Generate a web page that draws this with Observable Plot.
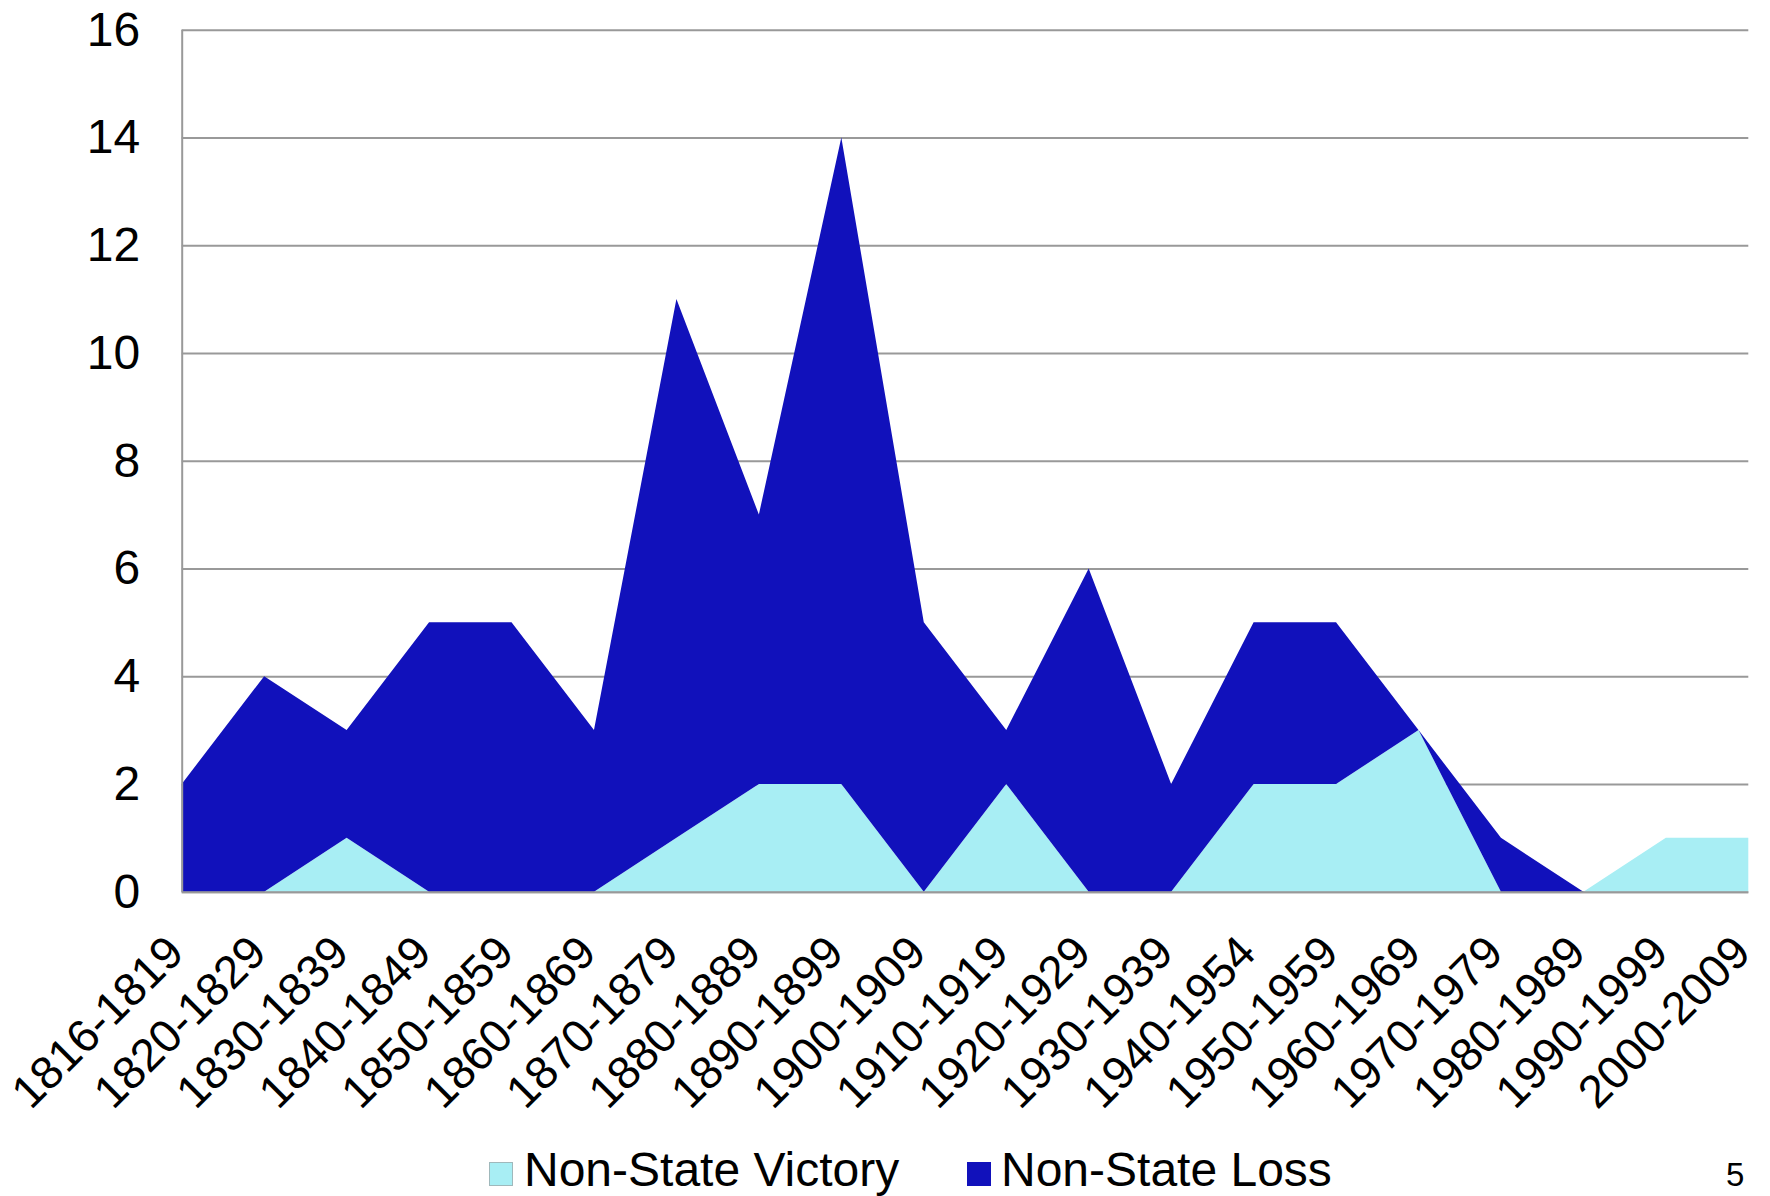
<!DOCTYPE html>
<html>
<head>
<meta charset="utf-8">
<script src="https://cdn.jsdelivr.net/npm/d3@7"></script>
<script src="https://cdn.jsdelivr.net/npm/@observablehq/plot@0.6"></script>
<style>
  html, body { margin: 0; padding: 0; background: white; }
  #wrap { position: relative; width: 1770px; height: 1196px; overflow: hidden; font-family: "Liberation Sans", Arial, sans-serif; }
  .sw { position: absolute; width: 24px; height: 24px; box-sizing: border-box; }
  .lt { position: absolute; font-size: 48px; line-height: 48px; white-space: nowrap; color: black; }
</style>
</head>
<body>
<div id="wrap">
  <div id="chart"></div>
  <div class="sw" style="left:489px; top:1162px; background:#a8eef4; border:1px solid #9fb8bb;"></div>
  <div class="lt" style="left:524px; top:1146px;">Non-State Victory</div>
  <div class="sw" style="left:967px; top:1162px; background:#1111bb;"></div>
  <div class="lt" style="left:1001px; top:1146px;">Non-State Loss</div>
  <div class="lt" style="left:1726px; top:1158px; font-size:33px; line-height:33px;">5</div>
</div>
<script>
const categories = ["1816-1819","1820-1829","1830-1839","1840-1849","1850-1859","1860-1869","1870-1879","1880-1889","1890-1899","1900-1909","1910-1919","1920-1929","1930-1939","1940-1954","1950-1959","1960-1969","1970-1979","1980-1989","1990-1999","2000-2009"];
const victory = [0,0,1,0,0,0,1,2,2,0,2,0,0,2,2,3,0,0,1,1];
const loss    = [2,4,2,5,5,3,10,5,12,5,1,6,2,3,3,0,1,0,0,0];
const seriesNames = ["Non-State Victory", "Non-State Loss"];
const seriesColors = ["#a8eef4", "#1111bb"];
const yTicks = [0,2,4,6,8,10,12,14,16];

const rows = [];
categories.forEach((c, i) => {
  rows.push({period: c, series: seriesNames[0], value: victory[i]});
  rows.push({period: c, series: seriesNames[1], value: loss[i]});
});

const chart = Plot.plot({
  width: 1770,
  height: 1130,
  marginLeft: 181.7,
  marginRight: 21.7,
  marginTop: 29.7,
  marginBottom: 238.3,
  style: {fontFamily: "Liberation Sans, Arial, sans-serif", fontSize: "48px", color: "black", background: "white", overflow: "visible"},
  x: {type: "point", domain: categories, padding: 0, round: false, axis: null},
  y: {domain: [0, 16], axis: null},
  color: {domain: seriesNames, range: seriesColors},
  marks: [
    Plot.gridY(yTicks, {stroke: "#999", strokeOpacity: 1, strokeWidth: 2}),
    Plot.areaY(rows, {x: "period", y: "value", fill: "series", order: seriesNames}),
    Plot.ruleX([categories[0]], {stroke: "#999", strokeWidth: 2}),
    Plot.ruleY([0], {stroke: "#999", strokeWidth: 2}),
    Plot.axisY(yTicks, {tickSize: 0, tickPadding: 42, fontSize: 48, fill: "black", label: null, tickFormat: d => String(d)}),
    Plot.text(categories, {x: d => d, frameAnchor: "bottom", rotate: -45, textAnchor: "end", lineAnchor: "bottom", dx: 4, dy: 63, fontSize: 46, fill: "black"})
  ]
});
document.getElementById("chart").appendChild(chart);
</script>
</body>
</html>
